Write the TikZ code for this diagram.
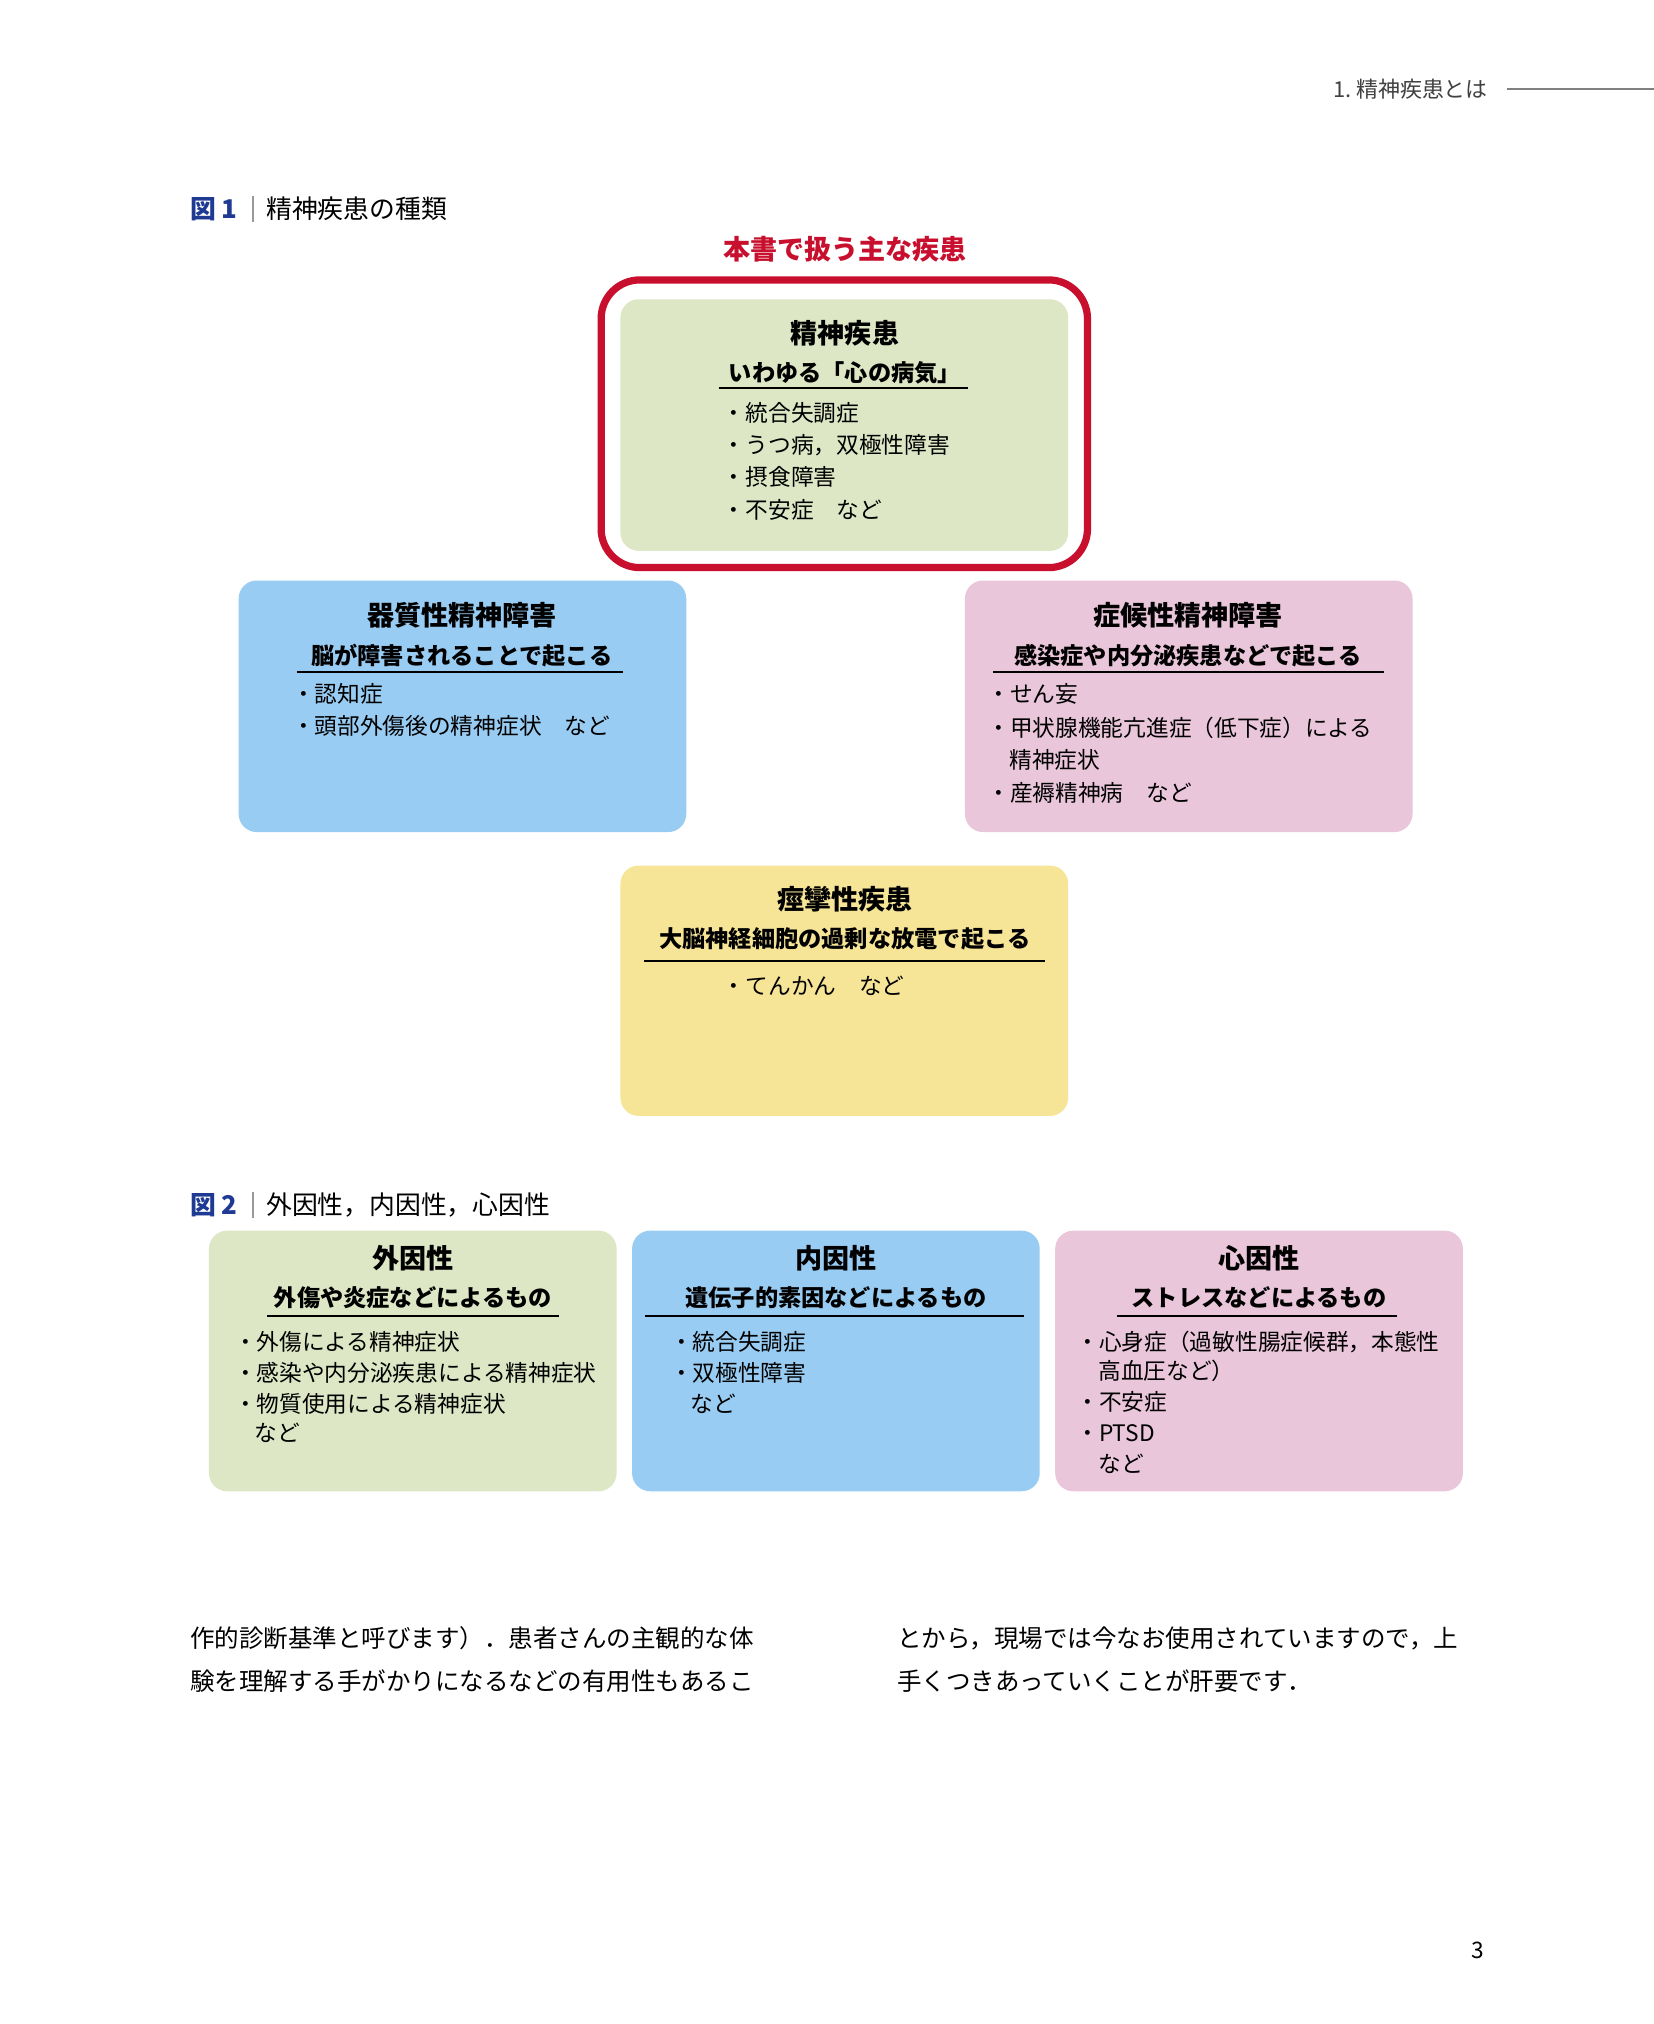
\documentclass[tikz,border=0pt]{standalone}
\usepackage{fontspec}
\setmainfont{Noto Sans CJK JP}
\newfontfamily\jpb{Noto Sans CJK JP Bold}
\definecolor{gbox}{HTML}{DDE7C5}
\definecolor{bbox}{HTML}{99CCF2}
\definecolor{pbox}{HTML}{E9C6DA}
\definecolor{ybox}{HTML}{F6E497}
\definecolor{redt}{HTML}{C8102E}
\definecolor{figblue}{HTML}{1F3A93}
\tikzset{
 card/.style={rounded corners=7pt,draw=none},
 ttl/.style={font=\fontsize{10.5}{12}\selectfont\bfseries,anchor=center,inner sep=0},
 sub/.style={font=\fontsize{9}{11}\selectfont\bfseries,anchor=center,inner sep=0},
 itm/.style={font=\fontsize{8.8}{11}\selectfont,anchor=west,inner sep=0},
 body/.style={font=\fontsize{9.5}{11}\selectfont,anchor=west,inner sep=0},
 ul/.style={line width=0.7pt},
}
\begin{document}
\begin{tikzpicture}[x=0.5pt,y=-0.5pt]
\useasboundingbox[fill=white] (0,0) rectangle (1282,1569);
% header
\node[itm,font=\fontsize{8.5}{10}\selectfont,text=black!75] (hdr) at (1033,69) {1.\ 精神疾患とは};
\draw[black!50,line width=0.5pt] (1168,69) -- (1282,69);
% fig1 title
\node[itm,font=\fontsize{10}{12}\selectfont\bfseries,text=figblue] (f1) at (147,162) {図 1};
\draw[black!40,line width=0.6pt] (196,152) -- (196,172);
\node[itm,font=\fontsize{10}{12}\selectfont] (f1t) at (206,162) {精神疾患の種類};
\node[ttl,text=redt] (red) at (655,193) {本書で扱う主な疾患};
\draw[redt,line width=2.8pt,rounded corners=15pt] (466,217) rectangle (843,440);
% green
\fill[gbox,card] (481,232) rectangle (828,427);
\node[ttl] (g1) at (655,258) {精神疾患};
\node[sub] (g2) at (655,289) {いわゆる「心の病気」};
\draw[ul] (557,301) -- (750,301);
\node[itm] at (560,320) {・統合失調症};
\node[itm] at (560,345) {・うつ病，双極性障害};
\node[itm] at (560,370) {・摂食障害};
\node[itm] at (560,395) {・不安症\quad など};
% blue
\fill[bbox,card] (185,450) rectangle (532,645);
\node[ttl] at (358,477) {器質性精神障害};
\node[sub] at (358,508) {脳が障害されることで起こる};
\draw[ul] (230,521) -- (483,521);
\node[itm] at (226,538) {・認知症};
\node[itm] at (226,563) {・頭部外傷後の精神症状\quad など};
% pink
\fill[pbox,card] (748,450) rectangle (1095,645);
\node[ttl] at (921,477) {症候性精神障害};
\node[sub] at (921,508) {感染症や内分泌疾患などで起こる};
\draw[ul] (770,521) -- (1073,521);
\node[itm] at (765,538) {・せん妄};
\node[itm] at (765,564) {・甲状腺機能亢進症（低下症）による};
\node[itm] at (782,589) {精神症状};
\node[itm] at (765,615) {・産褥精神病\quad など};
% yellow
\fill[ybox,card] (481,671) rectangle (828,865);
\node[ttl] at (655,697) {痙攣性疾患};
\node[sub] at (655,728) {大脳神経細胞の過剰な放電で起こる};
\draw[ul] (499,745) -- (810,745);
\node[itm] at (560,764) {・てんかん\quad など};
% fig2 title
\node[itm,font=\fontsize{10}{12}\selectfont\bfseries,text=figblue] (f2) at (147,934) {図 2};
\draw[black!40,line width=0.6pt] (196,924) -- (196,944);
\node[itm,font=\fontsize{10}{12}\selectfont] (f2t) at (206,934) {外因性，内因性，心因性};
% three boxes
\fill[gbox,card] (162,954) rectangle (478,1156);
\fill[bbox,card] (490,954) rectangle (806,1156);
\fill[pbox,card] (818,954) rectangle (1134,1156);
\node[ttl] at (320,975) {外因性};
\node[ttl] at (648,975) {内因性};
\node[ttl] at (976,975) {心因性};
\node[sub] at (320,1006) {外傷や炎症などによるもの};
\node[sub] at (648,1006) {遺伝子的素因などによるもの};
\node[sub] at (976,1006) {ストレスなどによるもの};
\draw[ul] (207,1020) -- (433,1020);
\draw[ul] (500,1020) -- (794,1020);
\draw[ul] (866,1020) -- (1083,1020);
\node[itm] at (181,1040) {・外傷による精神症状};
\node[itm] at (181,1064) {・感染や内分泌疾患による精神症状};
\node[itm] at (181,1088) {・物質使用による精神症状};
\node[itm] at (197,1111) {など};
\node[itm] at (519,1040) {・統合失調症};
\node[itm] at (519,1064) {・双極性障害};
\node[itm] at (535,1088) {など};
\node[itm] at (834,1040) {・心身症（過敏性腸症候群，本態性};
\node[itm] at (851,1063) {高血圧など）};
\node[itm] at (834,1087) {・不安症};
\node[itm] at (834,1111) {・PTSD};
\node[itm] at (851,1135) {など};
% body text
\node[body] at (147,1270) {作的診断基準と呼びます）．患者さんの主観的な体};
\node[body] at (147,1303) {験を理解する手がかりになるなどの有用性もあるこ};
\node[body] at (695,1270) {とから，現場では今なお使用されていますので，上};
\node[body] at (695,1303) {手くつきあっていくことが肝要です．};
\node[itm] at (1140,1512) {3};
\end{tikzpicture}
\end{document}
